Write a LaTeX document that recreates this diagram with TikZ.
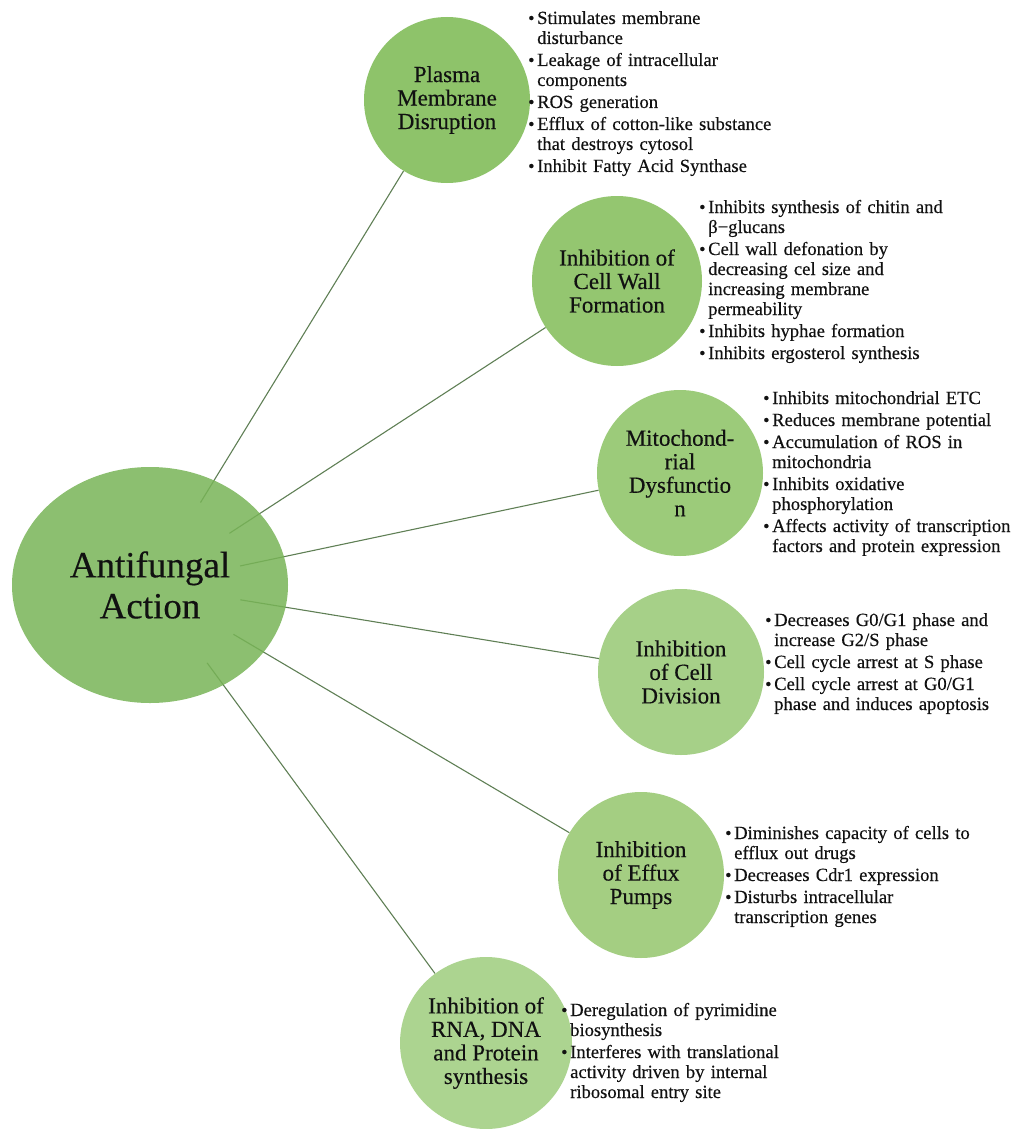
\documentclass[tikz,border=0pt]{standalone}
\usepackage{fontspec}
\setmainfont{Liberation Serif}[FakeBold=0.35]
\usetikzlibrary{shapes.geometric,calc}
\pgfdeclarelayer{bg}
\pgfsetlayers{bg,main}
\definecolor{bigc}{HTML}{78B457}
\definecolor{c1}{HTML}{8EC36A}
\definecolor{c2}{HTML}{94C670}
\definecolor{c3}{HTML}{9CCB7A}
\definecolor{c4}{HTML}{A6D088}
\definecolor{c5}{HTML}{A4CE82}
\definecolor{c6}{HTML}{ACD490}
\definecolor{linkc}{HTML}{5F7F55}
\definecolor{txt}{HTML}{111111}
\newcommand{\bitem}[1]{\par\noindent\hbox to 9pt{{\fontsize{18}{18}\selectfont •}\hfil}\begin{tabular}[t]{@{}l@{}}#1\end{tabular}\par}
\newcommand{\lsetup}{\parskip=2pt\lineskip=0pt\lineskiplimit=0pt}
\begin{document}
\begin{tikzpicture}[x=1pt,y=-1pt,
  bub/.style={circle, fill=#1, inner sep=0pt, minimum size=166pt, align=center,
    font=\fontsize{23}{23.5}\selectfont, text=txt},
  lst/.style={anchor=west, inner sep=0pt, text width=290pt, text=txt,
    font=\fontsize{18.6}{20}\selectfont},
  conn/.style={draw=linkc, line width=1.1pt}]
\useasboundingbox (0,0) rectangle (1011,1129);

\node[ellipse, fill=bigc, fill opacity=0.85, text opacity=1, minimum width=276pt,
  minimum height=236pt, inner sep=0pt, align=center, text=txt,
  font=\fontsize{37}{41}\selectfont] (big) at (150,585) {Antifungal\\Action};

\node[bub=c1] (pm) at (447,100) {Plasma\\Membrane\\Disruption};
\node[bub=c2, minimum size=170pt] (cw) at (617,281) {Inhibition of\\Cell Wall\\Formation};
\node[bub=c3] (mt) at (680,473) {Mitochond-\\rial\\Dysfunctio\\n};
\node[bub=c4] (cd) at (681,672) {Inhibition\\of Cell\\Division};
\node[bub=c5] (ep) at (641,875) {Inhibition\\of Effux\\Pumps};
\node[bub=c6, minimum size=172pt] (rn) at (486,1043) {Inhibition of\\RNA, DNA\\and Protein\\synthesis};

\begin{pgfonlayer}{bg}
\foreach \n in {pm,cw,mt,cd,ep,rn}{
  \coordinate (s\n) at ($(big.center)!0.17!(\n.center)$);
  \draw[conn] (s\n) -- (\n);
}
\end{pgfonlayer}

\node[lst] (l1) at (528,90) {\lsetup
\bitem{Stimulates membrane\\disturbance}
\bitem{Leakage of intracellular\\components}
\bitem{ROS generation}
\bitem{Efflux of cotton-like substance\\that destroys cytosol}
\bitem{Inhibit Fatty Acid Synthase}};

\node[lst] (l2) at (699,278) {\lsetup
\bitem{Inhibits synthesis of chitin and\\β−glucans}
\bitem{Cell wall defonation by\\decreasing cel size and\\increasing membrane\\permeability}
\bitem{Inhibits hyphae formation}
\bitem{Inhibits ergosterol synthesis}};

\node[lst] (l3) at (763,470) {\lsetup
\bitem{Inhibits mitochondrial ETC}
\bitem{Reduces membrane potential}
\bitem{Accumulation of ROS in\\mitochondria}
\bitem{Inhibits oxidative\\phosphorylation}
\bitem{Affects activity of transcription\\factors and protein expression}};

\node[lst] (l4) at (765,660) {\lsetup
\bitem{Decreases G0/G1 phase and\\increase G2/S phase}
\bitem{Cell cycle arrest at S phase}
\bitem{Cell cycle arrest at G0/G1\\phase and induces apoptosis}};

\node[lst] (l5) at (725,873) {\lsetup
\bitem{Diminishes capacity of cells to\\efflux out drugs}
\bitem{Decreases Cdr1 expression}
\bitem{Disturbs intracellular\\transcription genes}};

\node[lst] (l6) at (561,1049) {\lsetup
\bitem{Deregulation of pyrimidine\\biosynthesis}
\bitem{Interferes with translational\\activity driven by internal\\ribosomal entry site}};
\end{tikzpicture}
\end{document}
